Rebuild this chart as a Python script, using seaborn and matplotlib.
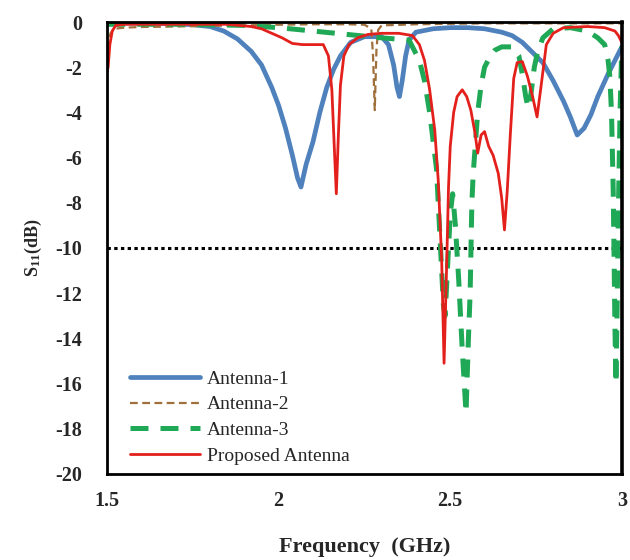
import matplotlib
matplotlib.use("Agg")
import matplotlib.pyplot as plt
import seaborn as sns

# S11 curves (frequency in GHz, S11 in dB)
freq_a1 = [1.50, 1.55, 1.60, 1.70, 1.75, 1.80, 1.84, 1.88, 1.92, 1.95, 1.98, 2.00,
           2.02, 2.04, 2.055, 2.065, 2.08, 2.10, 2.12, 2.14, 2.16, 2.18, 2.21, 2.25,
           2.30, 2.32, 2.335, 2.345, 2.352, 2.36, 2.37, 2.38, 2.40, 2.45, 2.50, 2.55,
           2.60, 2.65, 2.68, 2.71, 2.74, 2.77, 2.80, 2.83, 2.85, 2.87, 2.89, 2.91,
           2.93, 2.96, 3.00]
s11_a1 = [-0.05, -0.05, -0.05, -0.08, -0.12, -0.2, -0.4, -0.75, -1.3, -1.9, -2.9, -3.7,
          -4.7, -5.9, -6.9, -7.3, -6.3, -5.3, -4.0, -2.9, -2.1, -1.5, -0.9, -0.65,
          -0.65, -1.0, -1.9, -2.9, -3.3, -2.6, -1.5, -0.8, -0.45, -0.3, -0.25, -0.25,
          -0.3, -0.45, -0.6, -0.9, -1.35, -1.8, -2.6, -3.5, -4.2, -5.0, -4.7, -4.1,
          -3.3, -2.3, -1.1]

freq_a2 = [1.50, 1.505, 1.51, 1.52, 1.55, 1.60, 1.70, 1.80, 1.90, 2.00, 2.10, 2.20,
           2.25, 2.27, 2.275, 2.28, 2.285, 2.29, 2.30, 2.40, 2.50, 2.60, 2.70, 2.80,
           2.90, 3.00]
s11_a2 = [-1.2, -0.8, -0.5, -0.3, -0.25, -0.22, -0.2, -0.17, -0.15, -0.12, -0.1, -0.1,
          -0.12, -0.3, -1.5, -3.9, -1.2, -0.35, -0.15, -0.1, -0.08, -0.06, -0.06, -0.06,
          -0.06, -0.06]

freq_a3 = [1.50, 1.70, 1.90, 2.00, 2.10, 2.20, 2.30, 2.38, 2.41, 2.425, 2.44, 2.46,
           2.47, 2.48, 2.485, 2.49, 2.50, 2.507, 2.515, 2.525, 2.535, 2.546, 2.553,
           2.558, 2.563, 2.567, 2.58, 2.59, 2.60, 2.617, 2.63, 2.65, 2.68, 2.70, 2.71,
           2.72, 2.727, 2.735, 2.745, 2.755, 2.77, 2.80, 2.85, 2.90, 2.93, 2.95, 2.96,
           2.965, 2.97, 2.975, 2.98, 2.983, 2.987, 2.99, 2.995, 3.00]
s11_a3 = [-0.1, -0.1, -0.15, -0.25, -0.4, -0.55, -0.7, -0.8, -1.7, -2.6, -4.0, -6.5,
          -9.5, -12.5, -13.0, -11.5, -8.5, -7.6, -9.0, -11.5, -14.5, -17.3, -14.0,
          -12.0, -8.0, -6.7, -4.0, -2.8, -2.0, -1.5, -1.25, -1.1, -1.1, -1.5, -2.3,
          -3.3, -3.8, -3.2, -2.0, -1.3, -0.7, -0.3, -0.25, -0.4, -0.7, -1.0, -1.7,
          -2.4, -4.0, -7.5, -13.5, -16.0, -12.0, -8.3, -3.9, -1.1]

freq_prop = [1.50, 1.503, 1.508, 1.515, 1.525, 1.55, 1.70, 1.85, 1.92, 1.95, 1.98, 2.01,
             2.04, 2.07, 2.10, 2.13, 2.145, 2.155, 2.162, 2.168, 2.174, 2.18, 2.19,
             2.205, 2.23, 2.26, 2.30, 2.35, 2.39, 2.41, 2.425, 2.44, 2.455, 2.465,
             2.475, 2.482, 2.49, 2.495, 2.50, 2.51, 2.52, 2.535, 2.548, 2.56, 2.572,
             2.58, 2.59, 2.60, 2.612, 2.625, 2.64, 2.65, 2.658, 2.666, 2.675, 2.685,
             2.695, 2.71, 2.725, 2.74, 2.753, 2.765, 2.78, 2.80, 2.83, 2.90, 2.95,
             2.98, 2.99, 3.00]
s11_prop = [-2.2, -2.0, -1.0, -0.4, -0.15, -0.1, -0.1, -0.1, -0.2, -0.3, -0.5, -0.7,
            -0.95, -1.0, -1.0, -1.0, -1.5, -3.0, -5.5, -7.6, -5.0, -2.8, -1.5,
            -1.0, -0.7, -0.55, -0.5, -0.5, -0.6, -1.0, -1.7, -3.0, -4.8, -7.0,
            -10.5, -15.1, -10.5, -7.3, -5.5, -4.0, -3.3, -3.0, -3.3, -3.9, -4.9,
            -5.8, -5.0, -4.85, -5.5, -5.9, -6.7, -7.8, -9.2, -7.5, -5.0, -2.5,
            -1.8, -1.75, -2.4, -3.3, -4.2, -2.8, -1.0, -0.5, -0.25, -0.2, -0.25,
            -0.4, -0.6, -0.9]

labels = ["Antenna-1", "Antenna-2", "Antenna-3", "Proposed Antenna"]
threshold = -10
x_ticks = [1.5, 2, 2.5, 3]
x_tick_labels = ["1.5", "2", "2.5", "3"]
y_ticks = list(range(-20, 1, 2))

sns.set_theme(style="white")
plt.rcParams["font.family"] = ["Liberation Serif", "DejaVu Serif"]
plt.rcParams["axes.unicode_minus"] = False
plt.rcParams["mathtext.fontset"] = "custom"
plt.rcParams["mathtext.rm"] = "Liberation Serif:bold"
plt.rcParams["mathtext.it"] = "Liberation Serif:bold"

fig = plt.figure(figsize=(6.3, 5.6), dpi=100)
ax = fig.add_axes([0.170, 0.1536, 0.817, 0.8071])

# -10 dB reference line
ax.axhline(threshold, color="black", lw=2.2, dashes=(1.1, 1.1), zorder=1.5)

sns.lineplot(x=freq_a1, y=s11_a1, ax=ax, color="#4F81BD", lw=3.4,
             estimator=None, sort=False, label=labels[0])
sns.lineplot(x=freq_a2, y=s11_a2, ax=ax, color="#A0703C", lw=1.6,
             estimator=None, sort=False, label=labels[1])
ax.lines[-1].set_dashes((3.5, 2))
sns.lineplot(x=freq_a3, y=s11_a3, ax=ax, color="#1FA855", lw=3.6,
             estimator=None, sort=False, label=labels[2])
ax.lines[-1].set_dashes((3.6, 2.4))
sns.lineplot(x=freq_prop, y=s11_prop, ax=ax, color="#E3201B", lw=2.0,
             estimator=None, sort=False, label=labels[3])

ax.set_xlim(1.5, 3.0)
ax.set_ylim(-20, 0)
ax.set_xticks(x_ticks)
ax.set_xticklabels(x_tick_labels)
ax.set_yticks(y_ticks)
ax.tick_params(axis="both", length=0, labelsize=14.5)
ax.tick_params(axis="x", pad=12)
ax.tick_params(axis="y", pad=18)
for lab in ax.get_xticklabels() + ax.get_yticklabels():
    lab.set_fontweight("bold")

for sp in ax.spines.values():
    sp.set_color("black")
    sp.set_linewidth(2)
    sp.set_visible(True)
ax.spines["right"].set_linewidth(2.6)

ax.set_xlabel("Frequency  (GHz)", fontsize=16, fontweight="bold", labelpad=19)
ax.set_ylabel(r"S$_{11}$(dB)", fontsize=13, fontweight="bold", labelpad=8)

leg = ax.legend(loc="lower left", bbox_to_anchor=(0.045, 0.02), frameon=False,
                fontsize=14, handlelength=3.6, handletextpad=0.35,
                labelspacing=0.42, borderpad=0, borderaxespad=0)

fig.savefig("out.png", dpi=100)
